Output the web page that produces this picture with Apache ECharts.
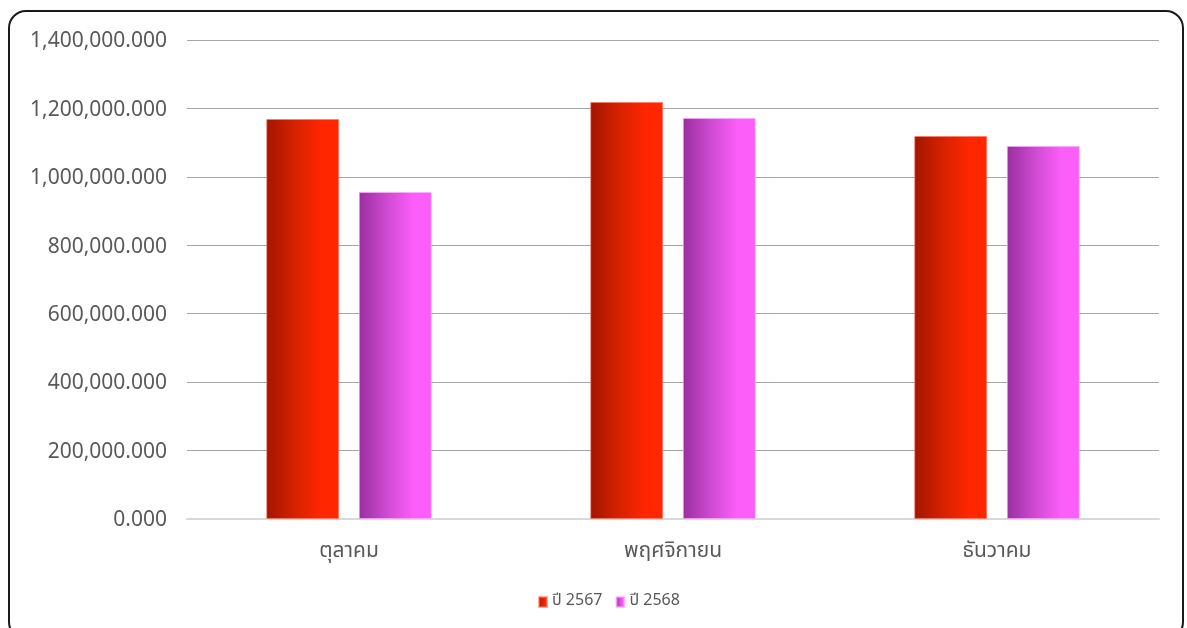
<!DOCTYPE html>
<html>
<head>
<meta charset="utf-8">
<script src="https://cdn.jsdelivr.net/npm/echarts@6/dist/echarts.min.js"></script>
<style>
html,body{margin:0;padding:0;background:#fff;}
#wrap{position:relative;width:1187px;height:628px;overflow:hidden;}
#frame{position:absolute;left:8px;top:10px;width:1176px;height:630px;border:2px solid #1a1a1a;border-radius:18px;box-sizing:border-box;pointer-events:none;}
#chart{position:absolute;left:0;top:0;width:1187px;height:628px;}
</style>
</head>
<body>
<div id="wrap"><div id="chart"></div><div id="frame"></div></div>
<script>
const categories = ['ตุลาคม', 'พฤศจิกายน', 'ธันวาคม'];
const seriesNames = ['ปี 2567', 'ปี 2568'];
const values2567 = [1169000, 1218800, 1119400];
const values2568 = [955700, 1172000, 1090200];

const font = '"Noto Sans Thai", "Noto Sans", "DejaVu Sans", sans-serif';
function grad(c0, cm, c1) {
  return new echarts.graphic.LinearGradient(0, 0, 1, 0, [
    {offset: 0, color: c0},
    {offset: 0.4, color: cm},
    {offset: 0.75, color: c1},
    {offset: 1, color: c1}
  ]);
}
const chart = echarts.init(document.getElementById('chart'));
chart.setOption({
  animation: false,
  grid: {left: 187, right: 28, top: 40, bottom: 109},
  legend: {
    data: seriesNames,
    bottom: 13,
    left: 533,
    itemWidth: 8, itemHeight: 10, itemGap: 13,
    icon: 'rect',
    textStyle: {color: '#595959', fontSize: 16, fontFamily: font}
  },
  xAxis: {
    type: 'category',
    data: categories,
    axisLine: {lineStyle: {color: '#d9d9d9', width: 2}},
    axisTick: {show: false},
    axisLabel: {color: '#595959', fontSize: 21, fontFamily: font, margin: 23}
  },
  yAxis: {
    type: 'value',
    min: 0, max: 1400000, interval: 200000,
    axisLine: {show: false},
    axisTick: {show: false},
    splitLine: {lineStyle: {color: '#a6a6a6', width: 1}},
    axisLabel: {
      color: '#595959', fontSize: 21, fontFamily: font, margin: 20,
      formatter: v => '{a|' + v.toLocaleString('en-US', {minimumFractionDigits: 3, maximumFractionDigits: 3}) + '}',
      rich: {a: {color: '#595959', fontSize: 21, fontFamily: font, padding: [6, 0, 0, 0]}}
    }
  },
  series: [
    {
      name: seriesNames[0], type: 'bar', data: values2567,
      barWidth: '22.5%', barGap: '27%',
      itemStyle: {color: grad('#a31500', '#d62200', '#ff2600'), borderColor: 'rgba(255,120,100,0.6)', borderWidth: 1}
    },
    {
      name: seriesNames[1], type: 'bar', data: values2568,
      barWidth: '22.5%',
      itemStyle: {color: grad('#9a2f9e', '#d04bd4', '#fc5efa'), borderColor: 'rgba(255,170,255,0.6)', borderWidth: 1}
    }
  ]
});
</script>
</body>
</html>
